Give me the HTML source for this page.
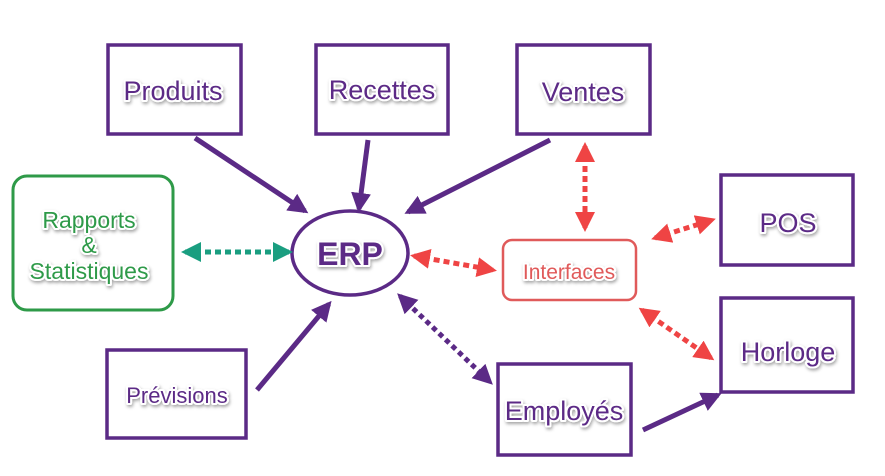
<!DOCTYPE html>
<html><head><meta charset="utf-8"><style>
html,body{margin:0;padding:0;background:#fff;width:885px;height:476px;overflow:hidden}
text{font-family:"Liberation Sans",sans-serif;text-anchor:middle;paint-order:stroke;stroke:#fff;stroke-width:4px;stroke-linejoin:round}
</style></head><body>
<svg width="885" height="476" viewBox="0 0 885 476" xmlns="http://www.w3.org/2000/svg">
<defs>
<filter id="sh" x="-20%" y="-20%" width="140%" height="140%"><feDropShadow dx="1" dy="2" stdDeviation="1.5" flood-color="#000" flood-opacity="0.35"/></filter>
<marker id="ap" viewBox="0 0 10 10" refX="8" refY="5" markerWidth="4" markerHeight="4" orient="auto-start-reverse"><path d="M0,0L10,5L0,10z" fill="#5b2a86"/></marker>
<marker id="ar" viewBox="0 0 10 10" refX="8" refY="5" markerWidth="4" markerHeight="4" orient="auto-start-reverse"><path d="M0,0L10,5L0,10z" fill="#ef4444"/></marker>
<marker id="ag" viewBox="0 0 10 10" refX="8" refY="5" markerWidth="4" markerHeight="4" orient="auto-start-reverse"><path d="M0,0L10,5L0,10z" fill="#1a9e80"/></marker>
</defs>
<g fill="none" stroke="#5b2a86" stroke-width="3.5">
<rect x="108" y="45" width="133" height="89"/>
<rect x="316" y="45" width="132" height="89"/>
<rect x="517" y="45" width="133" height="89"/>
<rect x="721" y="175" width="132" height="90"/>
<rect x="721" y="298" width="132" height="94"/>
<rect x="107" y="350" width="139" height="88"/>
<rect x="498" y="364" width="133" height="91"/>
<ellipse cx="350" cy="253" rx="58" ry="42"/>
</g>
<rect x="13" y="176" width="160" height="134" rx="14" fill="none" stroke="#2e9a48" stroke-width="3"/>
<rect x="503" y="240" width="133" height="60" rx="9" fill="none" stroke="#e05a5a" stroke-width="2.5"/>
<g stroke="#5b2a86" stroke-width="5" fill="none">
<line x1="195" y1="138" x2="305" y2="211" marker-end="url(#ap)"/>
<line x1="368" y1="140" x2="359" y2="209" marker-end="url(#ap)"/>
<line x1="550" y1="140" x2="408" y2="212" marker-end="url(#ap)"/>
<line x1="257" y1="390" x2="329" y2="304" marker-end="url(#ap)"/>
<line x1="643" y1="430" x2="718" y2="395" marker-end="url(#ap)"/>
<line x1="400" y1="296" x2="490" y2="382" stroke-dasharray="5 4" marker-start="url(#ap)" marker-end="url(#ap)"/>
</g>
<g stroke="#ef4444" stroke-width="5" fill="none" stroke-dasharray="6 4">
<line x1="414" y1="256" x2="493" y2="270" marker-start="url(#ar)" marker-end="url(#ar)"/>
<line x1="585" y1="146" x2="585" y2="228" marker-start="url(#ar)" marker-end="url(#ar)"/>
<line x1="655" y1="238" x2="712" y2="220" marker-start="url(#ar)" marker-end="url(#ar)"/>
<line x1="642" y1="310" x2="711" y2="358" marker-start="url(#ar)" marker-end="url(#ar)"/>
</g>
<line x1="185" y1="252" x2="289" y2="252" stroke="#1a9e80" stroke-width="5" stroke-dasharray="6 4" marker-start="url(#ag)" marker-end="url(#ag)"/>
<g filter="url(#sh)" fill="#5b2a86" font-size="27">
<text x="173" y="100">Produits</text>
<text x="382" y="99">Recettes</text>
<text x="583" y="101">Ventes</text>
<text x="788" y="232">POS</text>
<text x="788" y="361">Horloge</text>
<text x="564" y="420">Employés</text>
<text x="177" y="403" font-size="22">Prévisions</text>
<text x="350" y="265" font-size="32" font-weight="bold">ERP</text>
<text x="569" y="279" font-size="21" fill="#e05a5a">Interfaces</text>
<g fill="#2e9a48" font-size="23">
<text x="89" y="228">Rapports</text>
<text x="89" y="253">&amp;</text>
<text x="89" y="279">Statistiques</text>
</g>
</g>
</svg>
</body></html>
